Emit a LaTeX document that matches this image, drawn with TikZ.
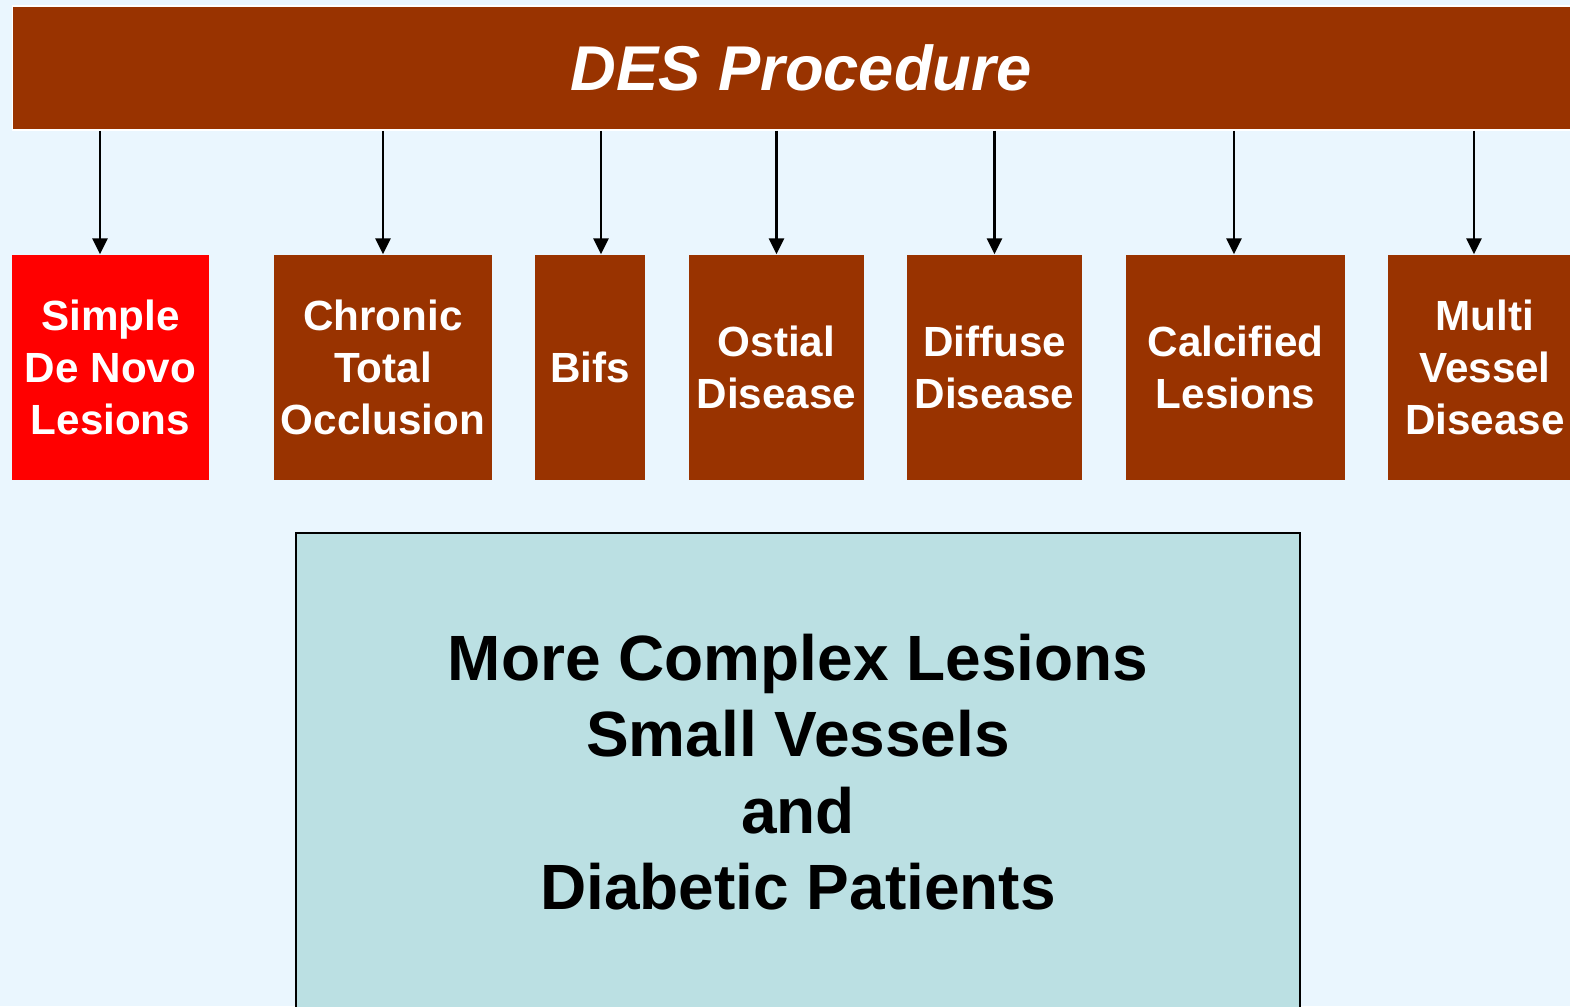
\documentclass[tikz,border=0pt]{standalone}
\usepackage{fontspec}
\setmainfont{Liberation Sans}
\usepackage{xcolor}
\usetikzlibrary{arrows.meta,calc}
\definecolor{desBrown}{RGB}{153,51,0}
\definecolor{pageBlue}{RGB}{234,246,254}
\definecolor{complexTeal}{RGB}{187,224,227}

\begin{document}
\begin{tikzpicture}[x=0.01cm,y=-0.01cm,
    lesion/.style={fill=desBrown, text=white, inner sep=0pt, align=center,
      minimum height=2.25cm, font=\fontsize{12}{14.8}\selectfont\bfseries},
    feed/.style={-{Triangle[width=4.3pt,length=4.5pt]}, line width=0.6pt}]
    \fill[pageBlue] (0,0) rectangle (1570,1006);
    \useasboundingbox (0,0) rectangle (1570,1006);

    % title bar
    \node[fill=desBrown, draw=white, line width=0.5pt, inner sep=0pt,
          minimum width=15.76cm, minimum height=1.24cm, text=white,
          font=\fontsize{18}{22}\selectfont\bfseries\itshape] (des) at (801,68) {DES Procedure};

    % lesion types
    \node[lesion, fill=red, minimum width=1.97cm] (simple) at (110.5,367.5) {Simple\\De Novo\\Lesions};
    \node[lesion, minimum width=2.18cm] (chronic) at (383,367.5) {Chronic\\Total\\Occlusion};
    \node[lesion, minimum width=1.10cm] (bifs) at (590,367.5) {Bifs};
    \node[lesion, minimum width=1.75cm] (ostial) at (776.5,367.5) {Ostial\\Disease};
    \node[lesion, minimum width=1.75cm] (diffuse) at (994.5,367.5) {Diffuse\\Disease};
    \node[lesion, minimum width=2.19cm] (calcified) at (1235.5,367.5) {Calcified\\Lesions};
    \node[lesion, minimum width=1.94cm] (multi) at (1485,367.5) {Multi\\Vessel\\Disease};

    \foreach \tgt/\dx in {simple/-10.5, chronic/0, bifs/11, ostial/0, diffuse/0, calcified/-1.5, multi/-11}
        \draw[feed] ($(des.south -| \tgt.north)+(\dx,0)$) -- ($(\tgt.north)+(\dx,0)$);

    % complex cases
    \node[fill=complexTeal, draw=black, line width=0.6pt, inner sep=0pt, align=center,
          minimum width=10.04cm, minimum height=4.78cm,
          font=\fontsize{18.2}{21.7}\selectfont\bfseries] (complex) at (798,772)
          {More Complex Lesions\\Small Vessels\\and\\Diabetic Patients};
\end{tikzpicture}
\end{document}
